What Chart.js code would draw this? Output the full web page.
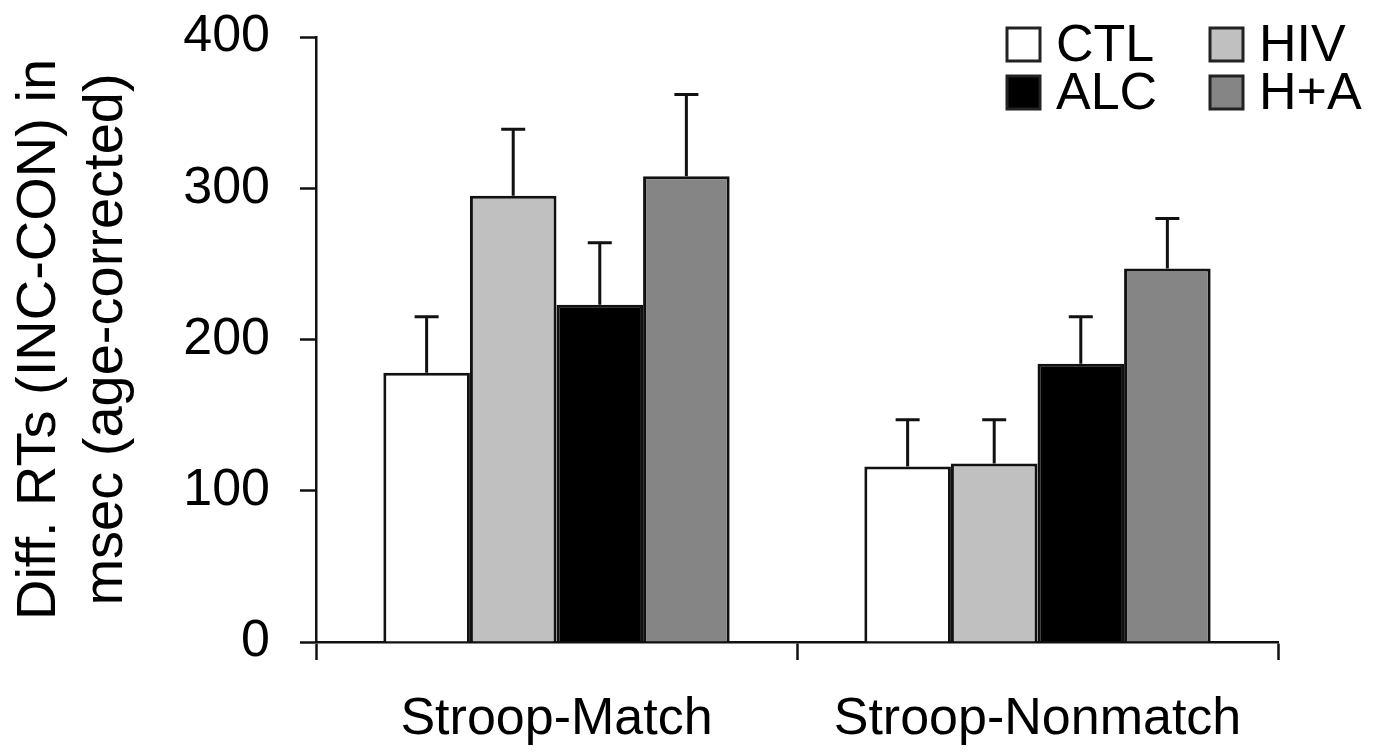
<!DOCTYPE html>
<html>
<head>
<meta charset="utf-8">
<script src="https://cdn.jsdelivr.net/npm/chart.js@4/dist/chart.umd.min.js"></script>
<style>
  html, body { margin: 0; padding: 0; background: #fff; }
  #wrap { width: 1378px; height: 755px; }
</style>
</head>
<body>
<div id="wrap"><canvas id="myChart" width="1378" height="755"></canvas></div>
<script>
// categories and groups
const conditions = ['Stroop-Match', 'Stroop-Nonmatch'];
const groups = ['CTL', 'HIV', 'ALC', 'H+A'];
const groupColors = ['#ffffff', '#c0c0c0', '#000000', '#858585'];

// mean difference RTs (ms), per group, [match, nonmatch]
const ctlMeans = [178, 116];
const hivMeans = [295, 118];
const alcMeans = [223, 184];
const haMeans = [308, 247];

// upper error (SE) above each bar
const ctlErr = [37, 31];
const hivErr = [44, 29];
const alcErr = [41, 31];
const haErr = [54, 33];

const yTicks = [0, 100, 200, 300, 400];

const means = [ctlMeans, hivMeans, alcMeans, haMeans];
const errs = [ctlErr, hivErr, alcErr, haErr];

const FONT = "'Liberation Sans', Arial, sans-serif";

// draws the upward error bars with a cap
const errorBars = {
    id: 'errorBars',
    afterDatasetsDraw(chart) {
        const ctx = chart.ctx;
        const y = chart.scales.y;
        ctx.save();
        ctx.strokeStyle = '#111';
        ctx.lineWidth = 3;
        chart.data.datasets.forEach((ds, i) => {
            const meta = chart.getDatasetMeta(i);
            meta.data.forEach((bar, j) => {
                const top = y.getPixelForValue(ds.data[j] + errs[i][j]);
                ctx.beginPath();
                ctx.moveTo(bar.x, bar.y);
                ctx.lineTo(bar.x, top);
                ctx.moveTo(bar.x - 12, top);
                ctx.lineTo(bar.x + 12, top);
                ctx.stroke();
            });
        });
        ctx.restore();
    }
};

// 2x2 legend in the top right corner
const boxLegend = {
    id: 'boxLegend',
    afterDraw(chart) {
        const ctx = chart.ctx;
        const colX = [1007, 1210];
        const rowY = [28, 76];
        const size = 33;
        ctx.save();
        ctx.font = '52px ' + FONT;
        ctx.textBaseline = 'middle';
        chart.data.datasets.forEach((ds, i) => {
            const x = colX[i % 2];
            const yy = rowY[Math.floor(i / 2)];
            ctx.fillStyle = ds.backgroundColor;
            ctx.fillRect(x, yy, size, size);
            ctx.lineWidth = 3;
            ctx.strokeStyle = '#222';
            ctx.strokeRect(x, yy, size, size);
            ctx.fillStyle = '#000';
            ctx.fillText(ds.label, x + size + 16, yy + size / 2 + 2);
        });
        ctx.restore();
    }
};

const ctx = document.getElementById('myChart').getContext('2d');
new Chart(ctx, {
    type: 'bar',
    data: {
        labels: conditions,
        datasets: groups.map((g, i) => ({
            label: g,
            data: means[i],
            backgroundColor: groupColors[i],
            borderColor: '#111',
            borderWidth: 3,
            borderSkipped: 'bottom',
            barPercentage: 1,
            categoryPercentage: 0.72
        }))
    },
    options: {
        responsive: false,
        animation: false,
        layout: { padding: { top: 37, right: 100, bottom: 0, left: 0 } },
        plugins: {
            legend: { display: false },
            tooltip: { enabled: false }
        },
        scales: {
            x: {
                afterFit(scale) { scale.height = 113; },
                grid: {
                    offset: true,
                    drawOnChartArea: false,
                    tickLength: 18,
                    tickWidth: 2.5,
                    tickColor: '#111'
                },
                border: { color: '#111', width: 2.5 },
                ticks: {
                    color: '#000',
                    padding: 28,
                    font: { family: FONT, size: 52 }
                }
            },
            y: {
                min: 0,
                max: 400,
                afterFit(scale) {
                    scale.width = 316;
                    scale.paddingTop = 0;
                    scale.paddingBottom = 0;
                },
                afterBuildTicks(scale) { scale.ticks = yTicks.map(v => ({ value: v })); },
                grid: {
                    drawOnChartArea: false,
                    tickLength: 16,
                    tickWidth: 2.5,
                    tickColor: '#111'
                },
                border: { color: '#111', width: 2.5 },
                ticks: {
                    color: '#000',
                    padding: 30,
                    font: { family: FONT, size: 52 }
                },
                title: {
                    display: true,
                    text: ['Diff. RTs (INC-CON) in', 'msec (age-corrected)'],
                    color: '#000',
                    font: { family: FONT, size: 56, lineHeight: 1.2 },
                    padding: { top: 6, bottom: 0 }
                }
            }
        }
    },
    plugins: [errorBars, boxLegend]
});
</script>
</body>
</html>
